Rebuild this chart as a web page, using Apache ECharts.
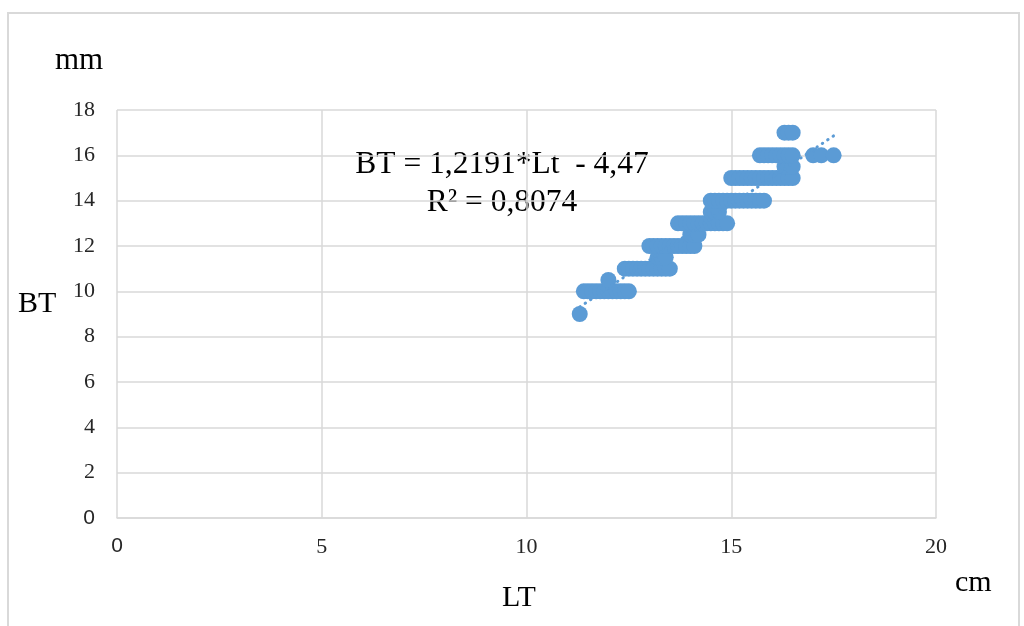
<!DOCTYPE html>
<html>
<head>
<meta charset="utf-8">
<script src="https://cdn.jsdelivr.net/npm/echarts@6/dist/echarts.min.js"></script>
<style>
html,body{margin:0;padding:0;background:#fff;}
#chart{width:1024px;height:626px;}
</style>
</head>
<body>
<div id="chart"></div>
<script>
// ---- data ----
var rowBT = [9, 10, 10.5, 11, 11.5, 12, 12.5, 13, 13.5, 14, 15, 15.5, 16, 16, 17];
var rowLT = [
  [11.3],
  [11.4, 11.5, 11.6, 11.7, 11.8, 11.9, 12.0, 12.1, 12.2, 12.3, 12.4, 12.5],
  [12.0],
  [12.4, 12.5, 12.6, 12.7, 12.8, 12.9, 13.0, 13.1, 13.2, 13.3, 13.4, 13.5],
  [13.2, 13.3, 13.4],
  [13.0, 13.1, 13.2, 13.3, 13.4, 13.5, 13.6, 13.7, 13.8, 13.9, 14.0, 14.1],
  [14.0, 14.1, 14.2],
  [13.7, 13.8, 13.9, 14.0, 14.1, 14.2, 14.3, 14.4, 14.5, 14.6, 14.7, 14.8, 14.9],
  [14.5, 14.6, 14.7],
  [14.5, 14.6, 14.7, 14.8, 14.9, 15.0, 15.1, 15.2, 15.3, 15.4, 15.5, 15.6, 15.7, 15.8],
  [15.0, 15.1, 15.2, 15.3, 15.4, 15.5, 15.6, 15.7, 15.8, 15.9, 16.0, 16.1, 16.2, 16.3, 16.4, 16.5],
  [16.3, 16.4, 16.5],
  [15.7, 15.8, 15.9, 16.0, 16.1, 16.2, 16.3, 16.4, 16.5],
  [17.0, 17.2, 17.5],
  [16.3, 16.4, 16.5]
];
var trendLT = [11.3, 17.5];
var trendBT = [9.31, 16.86];
var xTicks = [0, 5, 10, 15, 20];
var yTicks = [0, 2, 4, 6, 8, 10, 12, 14, 16, 18];
var eqLine1 = 'BT = 1,2191*Lt  - 4,47';
var eqLine2 = 'R² = 0,8074';

// ---- build ----
var points = [];
rowBT.forEach(function (bt, i) {
  rowLT[i].forEach(function (lt) { points.push([lt, bt]); });
});
var trend = trendLT.map(function (x, i) { return [x, trendBT[i]]; });

var serif = "'Liberation Serif','Times New Roman',serif";
var sans = "'Liberation Sans',Arial,sans-serif";
var blue = '#5B9BD5';

var chart = echarts.init(document.getElementById('chart'), null, {renderer: 'canvas'});
chart.setOption({
  animation: false,
  backgroundColor: '#fff',
  grid: {left: 117, top: 110, right: 88, bottom: 108, containLabel: false},
  xAxis: {
    type: 'value', min: xTicks[0], max: xTicks[xTicks.length - 1], interval: 5,
    axisLine: {show: true, lineStyle: {color: '#d9d9d9', width: 1.5}},
    axisTick: {show: false},
    splitLine: {show: true, lineStyle: {color: '#d9d9d9', width: 1.5}},
    axisLabel: {
      margin: 18, color: '#262626', fontFamily: serif, fontSize: 22,
      formatter: function (v) { return v === 0 ? '{s|0}' : String(v); },
      rich: {s: {fontFamily: sans, fontSize: 21, color: '#262626'}}
    }
  },
  yAxis: {
    type: 'value', min: yTicks[0], max: yTicks[yTicks.length - 1], interval: 2,
    axisLine: {show: false},
    axisTick: {show: false},
    splitLine: {show: true, lineStyle: {color: '#d9d9d9', width: 1.5}},
    axisLabel: {
      margin: 22, color: '#262626', fontFamily: serif, fontSize: 22,
      formatter: function (v) { return v === 0 ? '{s|0}' : String(v); },
      rich: {s: {fontFamily: sans, fontSize: 21, color: '#262626'}}
    }
  },
  series: [
    {
      type: 'scatter', data: points, symbol: 'circle', symbolSize: 16,
      itemStyle: {color: blue, opacity: 1}, z: 2
    },
    {
      type: 'line', data: trend, symbol: 'none', z: 3,
      lineStyle: {color: blue, width: 3, type: [0.5, 6], cap: 'round'}
    }
  ],
  graphic: [
    {type: 'rect', shape: {x: 8, y: 13, width: 1011, height: 630},
     style: {fill: 'none', stroke: '#d9d9d9', lineWidth: 2}, silent: true, z: -1},
    {type: 'text', x: 55, y: 61, style: {text: 'mm', font: '31px ' + serif, fill: '#000', textVerticalAlign: 'middle'}},
    {type: 'text', x: 18, y: 304, style: {text: 'BT', font: '30px ' + serif, fill: '#000', textVerticalAlign: 'middle'}},
    {type: 'text', x: 502, y: 598, style: {text: 'LT', font: '30px ' + serif, fill: '#000', textVerticalAlign: 'middle'}},
    {type: 'text', x: 955, y: 583, style: {text: 'cm', font: '30px ' + serif, fill: '#000', textVerticalAlign: 'middle'}},
    {type: 'text', x: 502, y: 165, style: {text: eqLine1, font: '31.5px ' + serif, fill: '#000', textAlign: 'center', textVerticalAlign: 'middle'}},
    {type: 'text', x: 502, y: 203, style: {text: eqLine2, font: '31.5px ' + serif, fill: '#000', textAlign: 'center', textVerticalAlign: 'middle'}}
  ]
});
</script>
</body>
</html>
